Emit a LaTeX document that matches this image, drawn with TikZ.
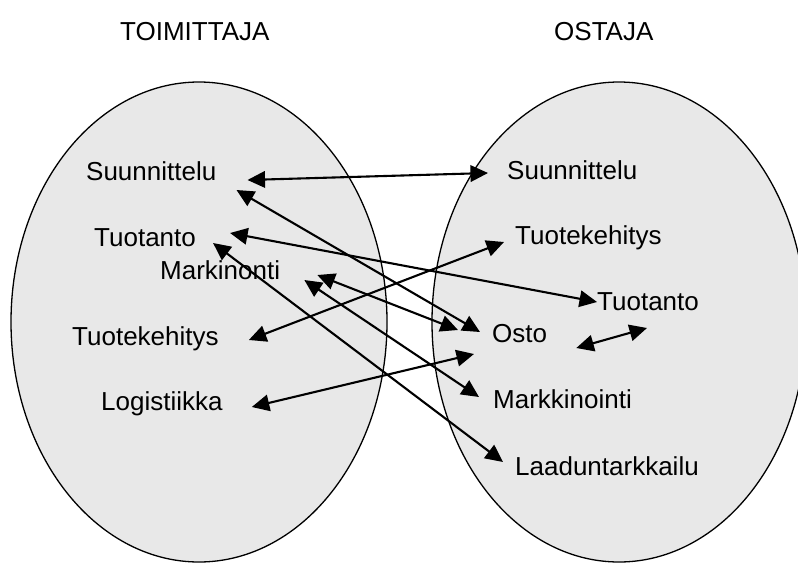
\documentclass[tikz,border=0pt]{standalone}
\usepackage{fontspec}
\setmainfont{Liberation Sans}
\usetikzlibrary{arrows.meta}
\definecolor{setfill}{HTML}{E8E8E8}
\tikzset{
  setshape/.style={draw=black, line width=1.3pt, fill=setfill},
  lbl/.style={anchor=base west, inner sep=0pt, font=\fontsize{26}{30}\selectfont},
  conn/.style={line width=2.1pt, {Triangle[length=17.5pt,width=16.5pt]}-{Triangle[length=17.5pt,width=16.5pt]}}
}
\begin{document}
\begin{tikzpicture}[x=1pt,y=-1pt]
\useasboundingbox (0,0) rectangle (798,563);

% the two parties
\draw[setshape] (199,322) ellipse [x radius=188, y radius=240];
\draw[setshape] (619,322) ellipse [x radius=187, y radius=240];

% headings
\node[lbl] (hL) at (120,40) {TOIMITTAJA};
\node[lbl] (hR) at (554,40) {OSTAJA};

% supplier functions
\node[lbl] (sL) at (86,180) {Suunnittelu};
\node[lbl] (tL) at (94,246) {Tuotanto};
\node[lbl] (mL) at (160,279) {Markinonti};
\node[lbl] (kL) at (72,345) {Tuotekehitys};
\node[lbl] (lL) at (101,410) {Logistiikka};

% buyer functions
\node[lbl] (sR) at (507,179) {Suunnittelu};
\node[lbl] (kR) at (515,244) {Tuotekehitys};
\node[lbl] (tR) at (597,310) {Tuotanto};
\node[lbl] (oR) at (492,342) {Osto};
\node[lbl] (mR) at (493,408) {Markkinointi};
\node[lbl] (qR) at (515,475) {Laaduntarkkailu};

% interactions
\draw[conn] ([shift={(31,0)}]sL.base east) -- ([shift={(-19,-6)}]sR.base west);
\draw[conn] ([shift={(20,10)}]sL.base east) -- ([shift={(-12,-10)}]oR.base west);
\draw[conn] ([shift={(34,-13)}]tL.base east) -- ([shift={(0,-8)}]tR.base west);
\draw[conn] ([shift={(17,-3)}]tL.base east) -- ([shift={(-12,-13)}]qR.base west);
\draw[conn] ([shift={(37,-4)}]mL.base east) -- ([shift={(-34,-12)}]oR.base west);
\draw[conn] ([shift={(24,1)}]mL.base east) -- ([shift={(-14,-11)}]mR.base west);
\draw[conn] ([shift={(30,-5)}]kL.base east) -- ([shift={(-11,-2)}]kR.base west);
\draw[conn] ([shift={(29,-3)}]lL.base east) -- ([shift={(-18,12)}]oR.base west);
\draw[conn] ([shift={(29,6)}]oR.base east) -- ([shift={(50,18)}]tR.base west);
\end{tikzpicture}
\end{document}
